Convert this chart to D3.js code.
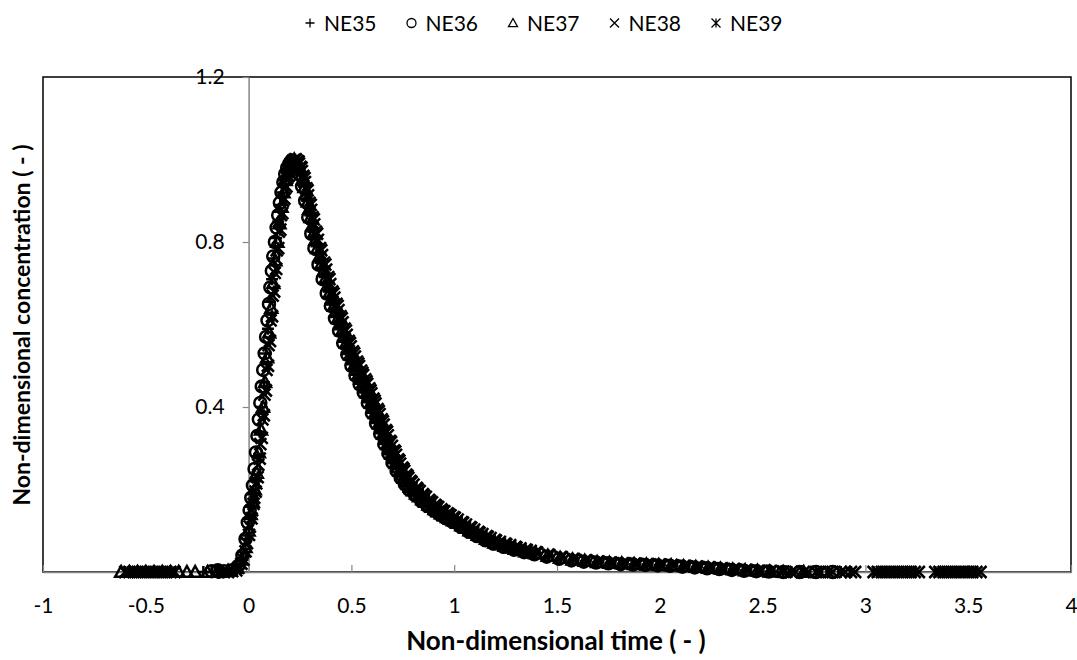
<!DOCTYPE html>
<html>
<head>
<meta charset="utf-8">
<script src="https://cdn.jsdelivr.net/npm/d3@7"></script>
<style>
    body { margin: 0; background: #fff; }
    text { font-family: Lato, 'Open Sans', sans-serif; fill: #000; }
</style>
</head>
<body>
<div id="chart1"></div>
<script>
// [time, concentration] pairs
let ne35 = [[-0.22,0],[-0.18,0],[-0.14,0],[-0.1,0],[-0.06,0.005],[-0.03,0.03],[-0.01,0.08],[0.004,0.13],[0.014,0.16],[0.024,0.19],[0.034,0.22],[0.044,0.28],[0.054,0.34],[0.064,0.4],[0.074,0.46],[0.084,0.53],[0.094,0.59],[0.104,0.655],[0.114,0.71],[0.124,0.76],[0.134,0.81],[0.144,0.85],[0.154,0.89],[0.164,0.92],[0.174,0.95],[0.184,0.97],[0.194,0.985],[0.205,0.995],[0.215,1.0],[0.228,0.995],[0.24,0.985],[0.255,0.965],[0.27,0.935],[0.285,0.9],[0.3,0.865],[0.315,0.825],[0.33,0.79],[0.35,0.75],[0.37,0.715],[0.39,0.68],[0.41,0.65],[0.43,0.62],[0.45,0.59],[0.47,0.56],[0.49,0.53],[0.51,0.505],[0.53,0.48],[0.55,0.46],[0.57,0.44],[0.59,0.415],[0.61,0.39],[0.63,0.365],[0.65,0.34],[0.67,0.315],[0.69,0.29],[0.71,0.27],[0.73,0.25],[0.75,0.232],[0.77,0.217],[0.79,0.203],[0.82,0.188],[0.85,0.174],[0.88,0.162],[0.91,0.151],[0.94,0.141],[0.97,0.132],[1.0,0.123],[1.04,0.111],[1.08,0.099],[1.12,0.088],[1.16,0.078],[1.2,0.07],[1.25,0.062],[1.3,0.055],[1.35,0.049],[1.4,0.044],[1.46,0.038],[1.52,0.033],[1.58,0.029],[1.64,0.026],[1.7,0.024],[1.76,0.022],[1.82,0.02],[1.88,0.019],[1.94,0.018],[2.0,0.017],[2.06,0.015],[2.12,0.014],[2.18,0.012],[2.24,0.01],[2.3,0.008],[2.36,0.006],[2.42,0.004],[2.48,0.003],[2.54,0.001],[2.6,0],
    [0.234,0.99],[0.248,0.976],[0.262,0.95],[0.278,0.918],[0.292,0.883],[0.308,0.845],[0.322,0.808],[0.34,0.77],[0.36,0.732],[0.38,0.697],[0.4,0.665],[0.42,0.635],[0.44,0.605],[0.46,0.575],[0.48,0.545],[0.5,0.517],[0.52,0.492],[0.54,0.47],[0.56,0.45],[0.58,0.428],[0.6,0.403],[0.62,0.378],[0.64,0.353],[0.66,0.328],[0.68,0.302],[0.7,0.28],[0.72,0.26],[0.74,0.241],[0.76,0.224],[0.78,0.21],[0.805,0.195],[0.835,0.181],[0.865,0.168],[0.895,0.156],[0.925,0.146],[0.955,0.136],[0.985,0.127],[1.02,0.117],[1.06,0.105],[1.1,0.093],[1.14,0.083],[1.18,0.074],[1.225,0.066],[1.275,0.058],[1.325,0.052],[1.375,0.046]];

let ne36 = [[-0.18,0.002],[-0.15,0.004],[-0.12,0.002],[-0.08,0.004],[-0.05,0.015],[-0.03,0.04],[-0.015,0.08],[-0.004,0.12],[0.005,0.15],[0.013,0.18],[0.021,0.21],[0.029,0.25],[0.036,0.29],[0.043,0.33],[0.05,0.37],[0.057,0.41],[0.064,0.45],[0.071,0.49],[0.078,0.53],[0.085,0.57],[0.092,0.61],[0.099,0.65],[0.106,0.69],[0.113,0.73],[0.12,0.765],[0.128,0.8],[0.136,0.835],[0.144,0.865],[0.152,0.895],[0.16,0.92],[0.169,0.945],[0.178,0.965],[0.188,0.98],[0.198,0.99],[0.208,0.997],[0.22,0.995],[0.232,0.985],[0.245,0.965],[0.26,0.935],[0.275,0.9],[0.29,0.86],[0.305,0.82],[0.32,0.785],[0.34,0.745],[0.36,0.71],[0.38,0.675],[0.4,0.645],[0.42,0.615],[0.44,0.585],[0.46,0.555],[0.48,0.527],[0.5,0.5],[0.52,0.476],[0.54,0.455],[0.56,0.435],[0.58,0.41],[0.6,0.385],[0.62,0.36],[0.64,0.335],[0.66,0.31],[0.68,0.287],[0.7,0.265],[0.72,0.245],[0.74,0.228],[0.76,0.213],[0.78,0.2],[0.81,0.186],[0.84,0.172],[0.87,0.16],[0.9,0.149],[0.93,0.139],[0.96,0.13],[0.99,0.122],[1.03,0.11],[1.07,0.098],[1.11,0.087],[1.15,0.077],[1.19,0.069],[1.24,0.061],[1.29,0.054],[1.34,0.048],[1.39,0.043],[1.45,0.037],[1.51,0.032],[1.57,0.028],[1.63,0.025],[1.69,0.023],[1.75,0.021],[1.81,0.019],[1.87,0.018],[1.93,0.017],[1.99,0.016],[2.05,0.015],[2.11,0.013],[2.17,0.011],[2.23,0.009],[2.29,0.007],[2.35,0.005],[2.41,0.003],[2.47,0.002],[2.53,0.001],[2.6,0],[2.68,0],[2.76,0],[2.84,0]];

let ne37 = [[-0.62,0],[-0.58,0],[-0.54,0],[-0.5,0],[-0.46,0],[-0.42,0],[-0.38,0],[-0.34,0],[-0.3,0],[-0.26,0],[-0.2,0],[-0.15,0],[-0.1,0.003],[-0.06,0.01],[-0.035,0.03],[-0.015,0.06],[0.0,0.1],[0.01,0.14],[0.02,0.17],[0.03,0.2],[0.04,0.24],[0.05,0.29],[0.06,0.345],[0.07,0.4],[0.08,0.46],[0.09,0.52],[0.1,0.58],[0.11,0.64],[0.12,0.7],[0.13,0.755],[0.14,0.8],[0.15,0.845],[0.16,0.885],[0.17,0.92],[0.18,0.95],[0.19,0.97],[0.2,0.985],[0.21,0.995],[0.222,1.0],[0.235,0.99],[0.25,0.975],[0.265,0.95],[0.28,0.915],[0.295,0.88],[0.31,0.84],[0.325,0.805],[0.345,0.765],[0.365,0.73],[0.385,0.695],[0.405,0.66],[0.425,0.63],[0.445,0.6],[0.465,0.57],[0.485,0.54],[0.505,0.515],[0.525,0.49],[0.545,0.468],[0.565,0.447],[0.585,0.423],[0.605,0.398],[0.625,0.373],[0.645,0.348],[0.665,0.322],[0.685,0.297],[0.705,0.275],[0.725,0.254],[0.745,0.236],[0.765,0.22],[0.785,0.206],[0.815,0.19],[0.845,0.176],[0.875,0.163],[0.905,0.152],[0.935,0.142],[0.965,0.133],[0.995,0.125],[1.035,0.113],[1.075,0.101],[1.115,0.09],[1.155,0.08],[1.195,0.071],[1.245,0.063],[1.295,0.056],[1.345,0.05],[1.395,0.045],[1.455,0.039],[1.515,0.034],[1.575,0.03],[1.635,0.027],[1.695,0.024],[1.755,0.022],[1.815,0.021],[1.875,0.019],[1.935,0.018],[1.995,0.017],[2.055,0.016],[2.115,0.014],[2.175,0.012],[2.235,0.01],[2.295,0.008],[2.355,0.006],[2.415,0.004],[2.475,0.003],[2.535,0.001],[2.6,0],[2.7,0],
    [0.242,0.983],[0.257,0.963],[0.272,0.933],[0.288,0.898],[0.302,0.86],[0.318,0.822],[0.335,0.785],[0.355,0.748],[0.375,0.712],[0.395,0.678],[0.415,0.645],[0.435,0.615],[0.455,0.585],[0.475,0.555],[0.495,0.527],[0.515,0.502],[0.535,0.479],[0.555,0.457],[0.575,0.435],[0.595,0.41],[0.615,0.385],[0.635,0.36],[0.655,0.335],[0.675,0.31],[0.695,0.286],[0.715,0.264],[0.735,0.245],[0.755,0.228],[0.775,0.213],[0.8,0.198],[0.83,0.183],[0.86,0.17],[0.89,0.158],[0.92,0.147],[0.95,0.137],[0.98,0.129],[1.015,0.119],[1.055,0.107],[1.095,0.095],[1.135,0.085],[1.175,0.075],[1.22,0.067],[1.27,0.059],[1.32,0.053],[1.37,0.047]];

let ne38 = [[-0.58,0],[-0.54,0],[-0.5,0],[-0.46,0],[-0.42,0],[-0.38,0],[-0.12,0],[-0.08,0.002],[-0.05,0.01],[-0.025,0.03],[-0.008,0.07],[0.006,0.11],[0.017,0.15],[0.027,0.18],[0.037,0.215],[0.047,0.26],[0.057,0.31],[0.067,0.37],[0.077,0.43],[0.087,0.49],[0.097,0.55],[0.107,0.61],[0.117,0.67],[0.127,0.725],[0.137,0.78],[0.147,0.825],[0.157,0.865],[0.167,0.9],[0.177,0.93],[0.187,0.955],[0.197,0.975],[0.207,0.99],[0.218,0.998],[0.23,1.0],[0.243,0.995],[0.257,0.98],[0.272,0.955],[0.287,0.925],[0.302,0.89],[0.317,0.855],[0.333,0.82],[0.353,0.78],[0.373,0.745],[0.393,0.71],[0.413,0.675],[0.433,0.645],[0.453,0.615],[0.473,0.585],[0.493,0.555],[0.513,0.53],[0.533,0.505],[0.553,0.483],[0.573,0.462],[0.593,0.44],[0.613,0.415],[0.633,0.39],[0.653,0.365],[0.673,0.34],[0.693,0.315],[0.713,0.292],[0.733,0.27],[0.753,0.25],[0.773,0.233],[0.793,0.218],[0.823,0.2],[0.853,0.185],[0.883,0.172],[0.913,0.16],[0.943,0.149],[0.973,0.14],[1.003,0.131],[1.043,0.119],[1.083,0.107],[1.123,0.095],[1.163,0.085],[1.203,0.076],[1.253,0.067],[1.303,0.059],[1.353,0.053],[1.403,0.047],[1.463,0.041],[1.523,0.036],[1.583,0.031],[1.643,0.028],[1.703,0.025],[1.763,0.023],[1.823,0.021],[1.883,0.02],[1.943,0.019],[2.003,0.018],[2.063,0.016],[2.123,0.015],[2.183,0.013],[2.243,0.011],[2.303,0.009],[2.363,0.007],[2.423,0.005],[2.483,0.003],[2.543,0.002],[2.6,0.001],[2.66,0],[2.72,0],[2.78,0],[2.84,0],[2.9,0],[2.95,0],[3.06,0],[3.1,0],[3.14,0],[3.18,0],[3.22,0],[3.26,0],[3.36,0],[3.4,0],[3.44,0],[3.48,0],[3.52,0],[3.56,0]];

let ne39 = [[-0.6,0],[-0.56,0],[-0.52,0],[-0.48,0],[-0.44,0],[-0.4,0],[-0.36,0],[-0.1,0],[-0.06,0.004],[-0.035,0.02],[-0.015,0.05],[0.002,0.09],[0.014,0.13],[0.024,0.165],[0.034,0.195],[0.044,0.23],[0.054,0.275],[0.064,0.325],[0.074,0.38],[0.084,0.44],[0.094,0.5],[0.104,0.56],[0.114,0.62],[0.124,0.68],[0.134,0.735],[0.144,0.785],[0.154,0.83],[0.164,0.87],[0.174,0.905],[0.184,0.935],[0.194,0.96],[0.204,0.98],[0.214,0.993],[0.226,1.0],[0.239,0.996],[0.252,0.982],[0.266,0.96],[0.281,0.93],[0.296,0.895],[0.311,0.86],[0.327,0.825],[0.347,0.785],[0.367,0.75],[0.387,0.715],[0.407,0.68],[0.427,0.65],[0.447,0.62],[0.467,0.59],[0.487,0.56],[0.507,0.535],[0.527,0.51],[0.547,0.488],[0.567,0.467],[0.587,0.445],[0.607,0.42],[0.627,0.395],[0.647,0.37],[0.667,0.344],[0.687,0.318],[0.707,0.295],[0.727,0.273],[0.747,0.253],[0.767,0.236],[0.787,0.221],[0.817,0.204],[0.847,0.189],[0.877,0.175],[0.907,0.163],[0.937,0.152],[0.967,0.142],[0.997,0.133],[1.037,0.121],[1.077,0.109],[1.117,0.097],[1.157,0.087],[1.197,0.078],[1.247,0.069],[1.297,0.061],[1.347,0.054],[1.397,0.048],[1.457,0.042],[1.517,0.036],[1.577,0.032],[1.637,0.028],[1.697,0.025],[1.757,0.023],[1.817,0.021],[1.877,0.02],[1.937,0.019],[1.997,0.018],[2.057,0.017],[2.117,0.015],[2.177,0.013],[2.237,0.011],[2.297,0.009],[2.357,0.007],[2.417,0.005],[2.477,0.003],[2.537,0.002],[2.6,0.001],[2.64,0],[2.7,0],[2.76,0],[2.82,0],[2.88,0],[2.93,0],[3.04,0],[3.08,0],[3.12,0],[3.16,0],[3.2,0],[3.24,0],[3.34,0],[3.38,0],[3.42,0],[3.46,0],[3.5,0],[3.54,0],
    [0.245,0.99],[0.259,0.972],[0.274,0.945],[0.289,0.913],[0.304,0.878],[0.319,0.843],[0.337,0.805],[0.357,0.768],[0.377,0.733],[0.397,0.698],[0.417,0.665],[0.437,0.635],[0.457,0.605],[0.477,0.575],[0.497,0.547],[0.517,0.522],[0.537,0.499],[0.557,0.477],[0.577,0.456],[0.597,0.433],[0.617,0.408],[0.637,0.383],[0.657,0.357],[0.677,0.331],[0.697,0.306],[0.717,0.284],[0.737,0.263],[0.757,0.245],[0.777,0.228],[0.802,0.212],[0.832,0.196],[0.862,0.182],[0.892,0.169],[0.922,0.157],[0.952,0.147],[0.982,0.137],[1.017,0.127],[1.057,0.115],[1.097,0.103],[1.137,0.092],[1.177,0.082],[1.222,0.073],[1.272,0.065],[1.322,0.057],[1.372,0.051]];

let seriesNames = ["NE35", "NE36", "NE37", "NE38", "NE39"];
let seriesData = [ne35, ne36, ne37, ne38, ne39];
let markerKinds = ["plus", "circle", "triangle", "cross", "star"];
let xTicks = [-1, -0.5, 0, 0.5, 1, 1.5, 2, 2.5, 3, 3.5, 4];
let yTicks = [0, 0.4, 0.8, 1.2];

function markerPath(kind, s) {
    if (kind == "plus") return "M" + (-s) + ",0H" + s + "M0," + (-s) + "V" + s;
    if (kind == "cross") return "M" + (-s) + "," + (-s) + "L" + s + "," + s + "M" + (-s) + "," + s + "L" + s + "," + (-s);
    if (kind == "star") return "M" + (-s) + "," + (-s) + "L" + s + "," + s + "M" + (-s) + "," + s + "L" + s + "," + (-s) + "M0," + (-s) + "V" + s;
    if (kind == "triangle") return "M0," + (-s) + "L" + s + "," + (s * 0.8) + "L" + (-s) + "," + (s * 0.8) + "Z";
    // circle
    return "M" + s + ",0A" + s + "," + s + " 0 1,1 " + (-s) + ",0A" + s + "," + s + " 0 1,1 " + s + ",0Z";
}

function scatterchart(selector) {
    let W = 1077, H = 660;
    let plot = { left: 43, right: 1071, top: 77, bottom: 572 };

    let svg = d3.select(selector)
        .append("svg")
        .attr("width", W)
        .attr("height", H);

    let x = d3.scaleLinear().domain([-1, 4]).range([plot.left, plot.right]);
    let y = d3.scaleLinear().domain([0, 1.2]).range([plot.bottom, plot.top]);

    // plot frame
    svg.append("rect")
        .attr("x", plot.left)
        .attr("y", plot.top)
        .attr("width", plot.right - plot.left)
        .attr("height", plot.bottom - plot.top)
        .attr("fill", "none")
        .attr("stroke", "#000")
        .attr("stroke-width", 1.5);

    // x axis along y = 0, ticks pointing up
    let xAxis = svg.append("g")
        .attr("transform", "translate(0," + y(0) + ")")
        .call(d3.axisBottom(x).tickValues(xTicks).tickSize(-7).tickSizeOuter(0).tickFormat(function (d) { return String(d); }));
    xAxis.select(".domain").attr("stroke", "#868686").attr("stroke-width", 1.5);
    xAxis.selectAll(".tick line").attr("stroke", "#868686").attr("stroke-width", 1.2);
    xAxis.selectAll(".tick text")
        .attr("y", 26)
        .style("font-size", "21px")
        .style("font-family", "Lato, sans-serif")
        .attr("fill", "#000");

    // y axis along x = 0
    let yAxis = svg.append("g")
        .attr("transform", "translate(" + x(0) + ",0)")
        .call(d3.axisLeft(y).tickValues(yTicks).tickSize(6).tickSizeOuter(0).tickFormat(function (d) { return String(d); }));
    yAxis.select(".domain").attr("stroke", "#868686").attr("stroke-width", 1.5);
    yAxis.selectAll(".tick line").attr("stroke", "#868686").attr("stroke-width", 1.2);
    yAxis.selectAll(".tick text")
        .attr("x", -24)
        .style("font-size", "21px")
        .style("font-family", "Lato, sans-serif")
        .attr("fill", "#000");

    // markers
    seriesData.forEach(function (rows, i) {
        svg.append("g")
            .selectAll("path")
            .data(rows)
            .enter()
            .append("path")
            .attr("transform", function (d) { return "translate(" + x(d[0]) + "," + y(d[1]) + ")"; })
            .attr("d", markerPath(markerKinds[i], 6))
            .attr("fill", "none")
            .attr("stroke", "#000")
            .attr("stroke-width", 2.5);
    });

    // axis titles
    svg.append("text")
        .attr("x", 556)
        .attr("y", 650)
        .attr("text-anchor", "middle")
        .style("font-size", "26px")
        .style("font-weight", "bold")
        .text("Non-dimensional time ( - )");
    svg.append("text")
        .attr("transform", "rotate(-90)")
        .attr("x", -325)
        .attr("y", 30)
        .attr("text-anchor", "middle")
        .style("font-size", "23px")
        .style("font-weight", "bold")
        .text("Non-dimensional concentration ( - )");

    // legend
    let legend = svg.append("g");
    seriesNames.forEach(function (name, i) {
        let lx = 310 + i * 101.5;
        legend.append("path")
            .attr("transform", "translate(" + lx + ",23)")
            .attr("d", markerPath(markerKinds[i], 4.5))
            .attr("fill", "none")
            .attr("stroke", "#000")
            .attr("stroke-width", 1.3);
        legend.append("text")
            .attr("x", lx + 14)
            .attr("y", 31)
            .style("font-size", "21px")
            .text(name);
    });
}

scatterchart("#chart1");
</script>
</body>
</html>
